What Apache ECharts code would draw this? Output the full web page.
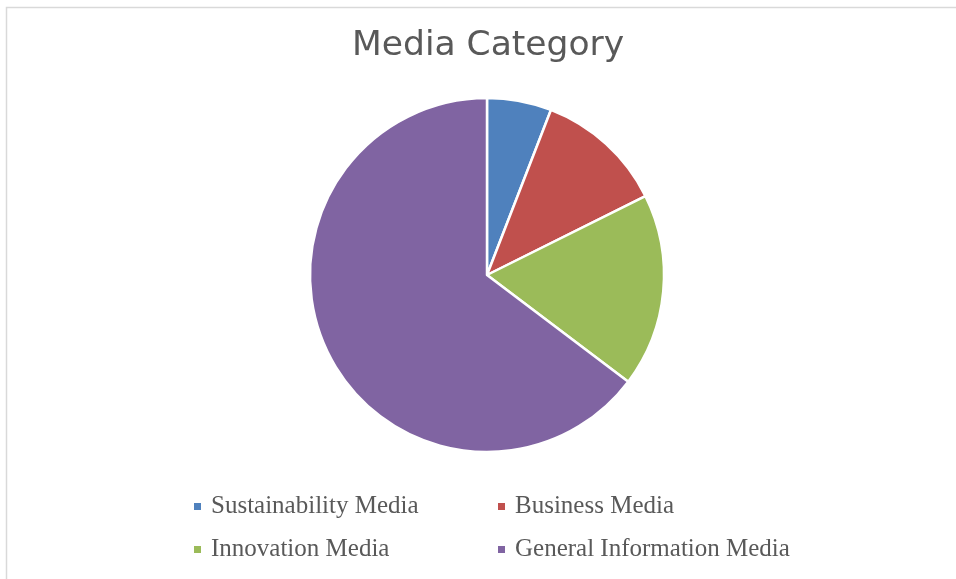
<!DOCTYPE html>
<html>
<head>
<meta charset="utf-8">
<script src="https://cdn.jsdelivr.net/npm/echarts@6/dist/echarts.min.js"></script>
<style>
  html, body { margin: 0; padding: 0; background: #fff; }
  #chart { width: 956px; height: 579px; }
</style>
</head>
<body>
<div id="chart"></div>
<script>
// Media category counts
const categories = ['Sustainability Media', 'Business Media', 'Innovation Media', 'General Information Media'];
const counts = [1, 2, 3, 11];
const colors = ['#4f81bd', '#c0504d', '#9bbb59', '#8064a2'];

const chart = echarts.init(document.getElementById('chart'));

const legendFont = { fontFamily: 'Liberation Serif', fontSize: 25, color: '#595959' };
const legendSpots = [
  { left: 192, top: 494 },
  { left: 496, top: 494 },
  { left: 192, top: 537 },
  { left: 496, top: 537 }
];

chart.setOption({
  backgroundColor: '#ffffff',
  animation: false,
  color: colors,
  graphic: [{
    type: 'rect',
    shape: { x: 6.5, y: 7.5, width: 1000, height: 1000 },
    style: { fill: 'none', stroke: '#d9d9d9', lineWidth: 1.5 },
    silent: true
  }],
  title: {
    text: 'Media Category',
    left: 352,
    top: 29,
    padding: 0,
    textStyle: { fontFamily: 'DejaVu Sans', fontWeight: 'normal', fontSize: 34.5, color: '#595959' }
  },
  legend: legendSpots.map((p, i) => ({
    data: [categories[i]],
    left: p.left,
    top: p.top,
    icon: 'rect',
    itemWidth: 9,
    itemHeight: 9,
    itemGap: 0,
    padding: 0,
    textStyle: Object.assign({ padding: [0, 0, 0, 4] }, legendFont)
  })),
  series: [{
    type: 'pie',
    center: [487, 275],
    radius: [0, 177],
    startAngle: 90,
    clockwise: true,
    label: { show: false },
    labelLine: { show: false },
    itemStyle: { borderColor: '#ffffff', borderWidth: 2.5 },
    emphasis: { disabled: true },
    data: categories.map((name, i) => ({ name: name, value: counts[i] }))
  }]
});
</script>
</body>
</html>
